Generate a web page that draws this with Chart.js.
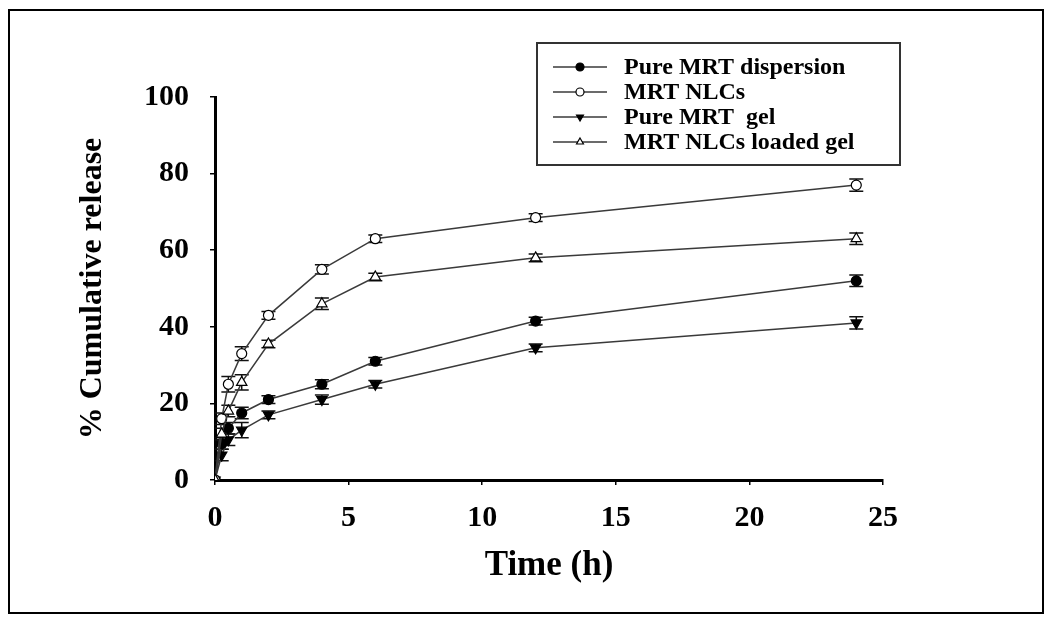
<!DOCTYPE html>
<html>
<head>
<meta charset="utf-8">
<script src="https://cdn.jsdelivr.net/npm/chart.js@4.4.0/dist/chart.umd.min.js"></script>
<style>
html, body { margin: 0; padding: 0; background: #fff; }
</style>
</head>
<body>
<canvas id="myChart" width="1052" height="620"></canvas>
<script>
// sampling times (h)
const times = [0, 0.25, 0.5, 1, 2, 4, 6, 12, 24];

// % cumulative release
const pureDispersion = [0, 9.5, 13.5, 17.5, 21, 25, 31, 41.5, 52];
const mrtNLCs = [0, 16, 25, 33, 43, 55, 63, 68.5, 77];
const pureGel = [0, 6.5, 10.5, 13, 17, 21, 25, 34.5, 41];
const nlcsGel = [0, 12, 18, 25.5, 35.5, 46, 53, 58, 63];

// error bars (+/-)
const errDispersion = [0, 1.5, 1.5, 1.5, 1, 1.2, 1, 1, 1.5];
const errNLCs = [0, 1.5, 2, 1.8, 1, 1.2, 1, 1, 1.6];
const errPureGel = [0, 1.5, 1.5, 2, 1, 1.2, 1, 1, 1.6];
const errNlcsGel = [0, 1.5, 1.5, 2, 1, 1.5, 1, 1, 1.5];

const labels = ['Pure MRT dispersion', 'MRT NLCs', 'Pure MRT  gel', 'MRT NLCs loaded gel'];

function toPoints(ys) {
    return times.map((t, i) => ({x: t, y: ys[i]}));
}

const lineColor = '#3a3a3a';

function makeSet(label, ys, errs, style, fill, rotation, radius, order) {
    return {
        label: label,
        data: toPoints(ys),
        errors: errs,
        order: order,
        borderColor: lineColor,
        borderWidth: 1.5,
        pointStyle: style,
        pointRotation: rotation,
        pointRadius: radius,
        pointBackgroundColor: fill,
        pointBorderColor: '#000',
        pointBorderWidth: 1.2,
        tension: 0,
        fill: false
    };
}

const errorBars = {
    id: 'errorBars',
    beforeDatasetsDraw(chart) {
        const ctx = chart.ctx;
        const yScale = chart.scales.y;
        ctx.save();
        ctx.strokeStyle = '#111';
        ctx.lineWidth = 1.5;
        chart.data.datasets.forEach((ds, i) => {
            const meta = chart.getDatasetMeta(i);
            meta.data.forEach((pt, j) => {
                const e = ds.errors[j];
                if (!e) return;
                const v = ds.data[j].y;
                const top = yScale.getPixelForValue(v + e);
                const bot = yScale.getPixelForValue(v - e);
                ctx.beginPath();
                ctx.moveTo(pt.x, top);
                ctx.lineTo(pt.x, bot);
                ctx.moveTo(pt.x - 7, top);
                ctx.lineTo(pt.x + 7, top);
                ctx.moveTo(pt.x - 7, bot);
                ctx.lineTo(pt.x + 7, bot);
                ctx.stroke();
            });
        });
        ctx.restore();
    }
};

const frameAndLegend = {
    id: 'frameAndLegend',
    beforeDraw(chart) {
        const ctx = chart.ctx;
        ctx.save();
        ctx.fillStyle = '#fff';
        ctx.fillRect(0, 0, chart.width, chart.height);
        ctx.strokeStyle = '#000';
        ctx.lineWidth = 2;
        ctx.strokeRect(9, 10, 1034, 603);
        ctx.restore();
    },
    afterDraw(chart) {
        const ctx = chart.ctx;
        ctx.save();
        ctx.strokeStyle = '#333';
        ctx.lineWidth = 2;
        ctx.strokeRect(537, 43, 363, 122);
        const rows = [67, 92, 117, 142];
        chart.data.datasets.forEach((ds, i) => {
            const yy = rows[i];
            ctx.strokeStyle = lineColor;
            ctx.lineWidth = 1.5;
            ctx.beginPath();
            ctx.moveTo(553, yy);
            ctx.lineTo(607, yy);
            ctx.stroke();
            ctx.fillStyle = ds.pointBackgroundColor;
            ctx.strokeStyle = '#000';
            ctx.lineWidth = 1.2;
            Chart.helpers.drawPoint(ctx, {
                pointStyle: ds.pointStyle,
                radius: 4,
                rotation: ds.pointRotation,
                borderWidth: 1.2
            }, 580, yy);
            ctx.fillStyle = '#000';
            ctx.font = 'bold 24px "Liberation Serif"';
            ctx.textBaseline = 'middle';
            ctx.textAlign = 'left';
            ctx.fillText(ds.label, 624, yy + 1);
        });
        ctx.restore();
    }
};

const tickFont = {family: 'Liberation Serif', size: 30, weight: 'bold'};

new Chart(document.getElementById('myChart').getContext('2d'), {
    type: 'line',
    data: {
        datasets: [
            makeSet(labels[0], pureDispersion, errDispersion, 'circle', '#000', 0, 5, 2),
            makeSet(labels[1], mrtNLCs, errNLCs, 'circle', '#fff', 0, 5, 1),
            makeSet(labels[2], pureGel, errPureGel, 'triangle', '#000', 180, 6, 3),
            makeSet(labels[3], nlcsGel, errNlcsGel, 'triangle', '#fff', 0, 6, 0)
        ]
    },
    options: {
        responsive: false,
        animation: false,
        layout: {
            padding: {left: 60, top: 97, right: 169, bottom: 0}
        },
        plugins: {
            legend: {display: false},
            tooltip: {enabled: false}
        },
        scales: {
            x: {
                type: 'linear',
                min: 0,
                max: 25,
                afterFit: function(scale) { scale.height = 140; },
                ticks: {
                    stepSize: 5,
                    font: tickFont,
                    color: '#000',
                    padding: 15
                },
                grid: {
                    drawOnChartArea: false,
                    drawTicks: true,
                    tickLength: 5,
                    color: '#000',
                    lineWidth: 1.5
                },
                border: {display: true, color: '#000', width: 3},
                title: {
                    display: true,
                    text: 'Time (h)',
                    color: '#000',
                    font: {family: 'Liberation Serif', size: 35, weight: 'bold'},
                    padding: {top: 0, bottom: 33}
                }
            },
            y: {
                min: 0,
                max: 100,
                afterFit: function(scale) { scale.width = 155; },
                ticks: {
                    stepSize: 20,
                    font: tickFont,
                    color: '#000',
                    padding: 21
                },
                grid: {
                    drawOnChartArea: false,
                    drawTicks: true,
                    tickLength: 5,
                    color: '#000',
                    lineWidth: 1.5
                },
                border: {display: true, color: '#000', width: 3},
                title: {
                    display: true,
                    text: '% Cumulative release',
                    color: '#000',
                    font: {family: 'Liberation Serif', size: 32, weight: 'bold'},
                    padding: {top: 14, bottom: 0}
                }
            }
        }
    },
    plugins: [errorBars, frameAndLegend]
});
</script>
</body>
</html>
